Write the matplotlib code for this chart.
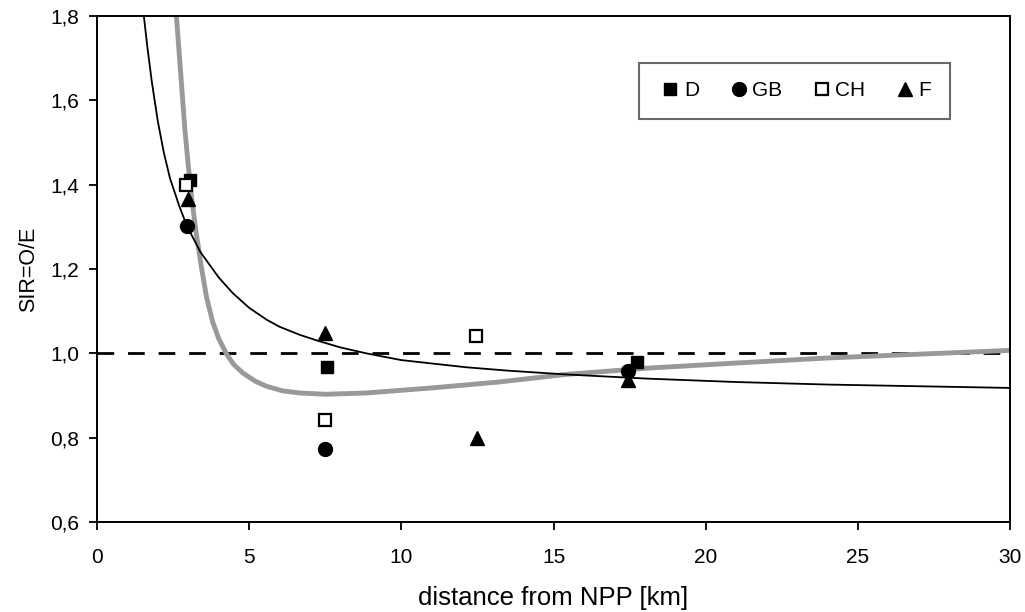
import matplotlib
matplotlib.use("Agg")
import matplotlib.pyplot as plt
from matplotlib.ticker import FuncFormatter

plt.rcParams['font.family'] = ['Liberation Sans', 'DejaVu Sans']

# Observed SIR by distance per country
d_x = [3.05, 7.57, 17.74]
d_y = [1.411, 0.968, 0.979]
gb_x = [2.95, 7.48, 17.44]
gb_y = [1.302, 0.773, 0.958]
ch_x = [2.92, 7.48, 12.46]
ch_y = [1.399, 0.842, 1.041]
f_x = [3.00, 7.48, 12.5, 17.44]
f_y = [1.366, 1.048, 0.799, 0.937]

# Fitted curves
black_x = [1.54, 1.65, 1.8, 2.0, 2.2, 2.4, 2.7, 2.95, 3.4, 4.0, 4.46, 5.0, 5.57, 6.0,
           6.66, 7.25, 8.0, 8.85, 10.0, 11.0, 12.13, 13.5, 15.4, 18.1, 21.0, 24.0, 27.0, 30.0]
black_y = [1.80, 1.73, 1.645, 1.55, 1.475, 1.415, 1.35, 1.303, 1.240, 1.180, 1.143, 1.108, 1.080, 1.063,
           1.044, 1.030, 1.014, 1.000, 0.984, 0.976, 0.967, 0.959, 0.950, 0.940, 0.932, 0.926, 0.922, 0.918]
gray_x = [2.61, 2.75, 2.89, 3.0, 3.10, 3.25, 3.43, 3.6, 3.8, 4.0, 4.26, 4.5, 4.8, 5.2, 5.57,
          6.1, 6.66, 7.5, 8.85, 11.0, 13.2, 15.4, 18.1, 21.0, 24.0, 27.0, 30.0]
gray_y = [1.80, 1.665, 1.53, 1.445, 1.375, 1.29, 1.205, 1.133, 1.075, 1.035, 0.998, 0.973, 0.953, 0.934, 0.922,
          0.911, 0.906, 0.903, 0.906, 0.918, 0.932, 0.950, 0.965, 0.977, 0.989, 0.998, 1.007]

ref_x = [0, 30]
ref_y = [1.0, 1.0]

x_ticks = [0, 5, 10, 15, 20, 25, 30]
y_ticks = [0.6, 0.8, 1.0, 1.2, 1.4, 1.6, 1.8]

fig = plt.figure(figsize=(10.25, 6.12), dpi=100)
ax = fig.add_axes([0.0946, 0.147, 0.8908, 0.8269])

ax.plot(ref_x, ref_y, color='black', lw=2, dashes=(6, 5), zorder=1)
ax.plot(gray_x, gray_y, color='#999999', lw=3.5, solid_capstyle='butt',
        solid_joinstyle='round', zorder=2)
ax.plot(black_x, black_y, color='black', lw=1.3, solid_joinstyle='round', zorder=3)

ms = 9
ax.plot(d_x, d_y, 's', color='black', ms=ms, ls='none', label='D', zorder=4)
ax.plot(gb_x, gb_y, 'o', color='black', ms=ms + 1, ls='none', label='GB', zorder=4)
ax.plot(ch_x, ch_y, 's', mfc='white', mec='black', mew=1.6, ms=ms, ls='none', label='CH', zorder=4)
ax.plot(f_x, f_y, '^', color='black', ms=ms + 1, ls='none', label='F', zorder=4)

ax.set_xlim(0, 30)
ax.set_ylim(0.6, 1.8)
ax.set_xticks(x_ticks)
ax.set_yticks(y_ticks)
ax.yaxis.set_major_formatter(FuncFormatter(lambda v, p: f"{v:.1f}".replace('.', ',')))
ax.tick_params(direction='out', length=5.5, width=1.3, labelsize=15, colors='black')
ax.tick_params(axis='x', pad=13)
ax.tick_params(axis='y', pad=7)
for s in ax.spines.values():
    s.set_linewidth(1.4)

ax.set_xlabel('distance from NPP [km]', fontsize=18.5, labelpad=14)
ax.set_ylabel('SIR=O/E', fontsize=15.5, labelpad=8)

leg = ax.legend(loc='upper right', bbox_to_anchor=(0.9345, 0.908), ncol=4, frameon=True,
                fancybox=False, edgecolor='#444444', fontsize=15, handletextpad=0.05,
                handlelength=1.2, columnspacing=1.3, borderpad=0.9, borderaxespad=0)
leg.get_frame().set_linewidth(1.5)

fig.savefig('out.png', dpi=100)
